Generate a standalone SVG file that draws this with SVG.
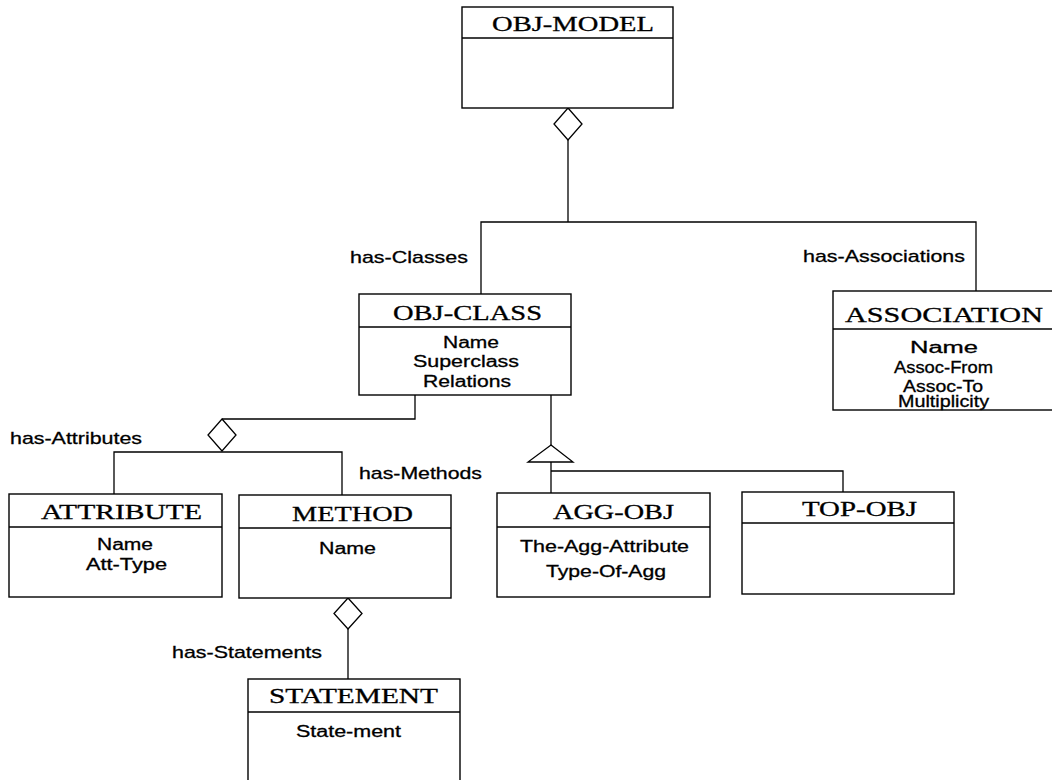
<svg xmlns="http://www.w3.org/2000/svg" width="1052" height="780" viewBox="0 0 1052 780">
<style>
.box{fill:#fff;stroke:#000;stroke-width:1.4}
.div{stroke:#000;stroke-width:1.4}
.ln{fill:none;stroke:#000;stroke-width:1.3}
.sym{fill:#fff;stroke:#000;stroke-width:1.3}
.t{font-family:"Liberation Serif","Times New Roman",serif;font-size:21.5px;fill:#000;stroke:#000;stroke-width:0.3}
.a{font-family:"Liberation Sans",Arial,sans-serif;font-size:16px;fill:#000;stroke:#000;stroke-width:0.3}
.l{font-family:"Liberation Sans",Arial,sans-serif;font-size:17px;fill:#000;stroke:#000;stroke-width:0.3}
</style>
<rect width="1052" height="780" fill="#fff"/>
<g id="connectors">
<polyline class="ln" points="568,140 568,222"/>
<polyline class="ln" points="481,294 481,222 976,222 976,291"/>
<polygon class="sym" points="568,108 582,124 568,140 554,124"/>
<polyline class="ln" points="415,395 415,419 222,419"/>
<polygon class="sym" points="222,419 236,435 222,451 208,435"/>
<polyline class="ln" points="114,494 114,452 342,452 342,495"/>
<polyline class="ln" points="551,395 551,445"/>
<polygon class="sym" points="551,445 573,462 528,462"/>
<polyline class="ln" points="551,462 551,493"/>
<polyline class="ln" points="551,471 843,471 843,492"/>
<polygon class="sym" points="348,598 362,613.5 348,629 334,613.5"/>
<polyline class="ln" points="348,629 348,679"/>
<text class="l" x="350" y="263" textLength="118" lengthAdjust="spacingAndGlyphs">has-Classes</text>
<text class="l" x="803" y="262" textLength="162" lengthAdjust="spacingAndGlyphs">has-Associations</text>
<text class="l" x="10" y="444" textLength="132" lengthAdjust="spacingAndGlyphs">has-Attributes</text>
<text class="l" x="359" y="479" textLength="123" lengthAdjust="spacingAndGlyphs">has-Methods</text>
<text class="l" x="172" y="658" textLength="150" lengthAdjust="spacingAndGlyphs">has-Statements</text>
</g>
<g id="obj-model">
<rect class="box" x="462" y="7" width="211" height="101"/>
<line class="div" x1="462" y1="38" x2="673" y2="38"/>
<text class="t" x="492" y="31" textLength="162" lengthAdjust="spacingAndGlyphs">OBJ-MODEL</text>
</g>
<g id="obj-class">
<rect class="box" x="359" y="294" width="212" height="101"/>
<line class="div" x1="359" y1="327" x2="571" y2="327"/>
<text class="t" x="393" y="320" textLength="149" lengthAdjust="spacingAndGlyphs">OBJ-CLASS</text>
<text class="a" x="443" y="348" textLength="56" lengthAdjust="spacingAndGlyphs">Name</text>
<text class="a" x="413" y="367" textLength="106" lengthAdjust="spacingAndGlyphs">Superclass</text>
<text class="a" x="423" y="387" textLength="88" lengthAdjust="spacingAndGlyphs">Relations</text>
</g>
<g id="association">
<rect class="box" x="833" y="291" width="222" height="119"/>
<line class="div" x1="833" y1="329" x2="1055" y2="329"/>
<text class="t" x="845" y="322" textLength="198" lengthAdjust="spacingAndGlyphs">ASSOCIATION</text>
<text class="a" x="910" y="353" textLength="68" lengthAdjust="spacingAndGlyphs">Name</text>
<text class="a" x="894" y="373" textLength="99" lengthAdjust="spacingAndGlyphs">Assoc-From</text>
<text class="a" x="903" y="392" textLength="80" lengthAdjust="spacingAndGlyphs">Assoc-To</text>
<text class="a" x="898" y="407" textLength="91" lengthAdjust="spacingAndGlyphs">Multiplicity</text>
</g>
<g id="attribute">
<rect class="box" x="9" y="494" width="213" height="103"/>
<line class="div" x1="9" y1="527" x2="222" y2="527"/>
<text class="t" x="41" y="519" textLength="161" lengthAdjust="spacingAndGlyphs">ATTRIBUTE</text>
<text class="a" x="97" y="550" textLength="56" lengthAdjust="spacingAndGlyphs">Name</text>
<text class="a" x="86" y="570" textLength="81" lengthAdjust="spacingAndGlyphs">Att-Type</text>
</g>
<g id="method">
<rect class="box" x="239" y="495" width="212" height="103"/>
<line class="div" x1="239" y1="528" x2="451" y2="528"/>
<text class="t" x="292" y="521" textLength="121" lengthAdjust="spacingAndGlyphs">METHOD</text>
<text class="a" x="319" y="554" textLength="57" lengthAdjust="spacingAndGlyphs">Name</text>
</g>
<g id="agg-obj">
<rect class="box" x="497" y="493" width="213" height="104"/>
<line class="div" x1="497" y1="527" x2="710" y2="527"/>
<text class="t" x="553" y="519" textLength="121" lengthAdjust="spacingAndGlyphs">AGG-OBJ</text>
<text class="a" x="520" y="552" textLength="169" lengthAdjust="spacingAndGlyphs">The-Agg-Attribute</text>
<text class="a" x="546" y="577" textLength="120" lengthAdjust="spacingAndGlyphs">Type-Of-Agg</text>
</g>
<g id="top-obj">
<rect class="box" x="742" y="492" width="212" height="102"/>
<line class="div" x1="742" y1="523" x2="954" y2="523"/>
<text class="t" x="802" y="516" textLength="115" lengthAdjust="spacingAndGlyphs">TOP-OBJ</text>
</g>
<g id="statement">
<rect class="box" x="248" y="679" width="212" height="110"/>
<line class="div" x1="248" y1="712" x2="460" y2="712"/>
<text class="t" x="269" y="703" textLength="169" lengthAdjust="spacingAndGlyphs">STATEMENT</text>
<text class="a" x="296" y="737" textLength="105" lengthAdjust="spacingAndGlyphs">State-ment</text>
</g>
</svg>
